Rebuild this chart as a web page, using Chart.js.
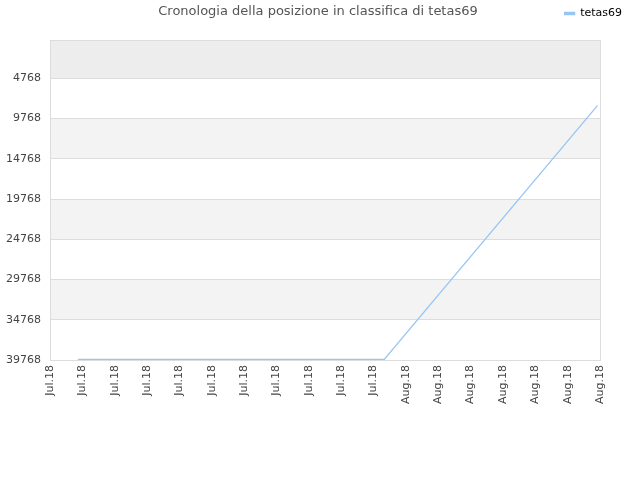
<!DOCTYPE html>
<html>
<head>
<meta charset="utf-8">
<script src="https://cdn.jsdelivr.net/npm/chart.js@4/dist/chart.umd.min.js"></script>
<style>
  html, body { margin: 0; padding: 0; background: #fff; }
  #wrap { width: 640px; height: 480px; }
</style>
</head>
<body>
<div id="wrap"><canvas id="chart"></canvas></div>
<script>
var chartTitle = 'Cronologia della posizione in classifica di tetas69';
var seriesName = 'tetas69';
var xLabels = ['Jul.18', 'Jul.18', 'Jul.18', 'Jul.18', 'Jul.18', 'Jul.18', 'Jul.18', 'Jul.18', 'Jul.18', 'Jul.18', 'Jul.18',
               'Aug.18', 'Aug.18', 'Aug.18', 'Aug.18', 'Aug.18', 'Aug.18', 'Aug.18'];
// position of each point along the label axis (label index units)
var pointPos = [0.86, 10.33, 16.92];
var ranks = [39700, 39700, 8150];
var yTicks = [4768, 9768, 14768, 19768, 24768, 29768, 34768, 39768];

var font = 'DejaVu Sans';

// alternating background bands, frame and title
var bands = {
  id: 'bands',
  beforeDraw: function(chart) {
    var ctx = chart.ctx, a = chart.chartArea, y = chart.scales.y;
    var bounds = [0].concat(yTicks);
    ctx.save();
    for (var i = 0; i < bounds.length - 1; i++) {
      if (i % 2) continue;
      var t = y.getPixelForValue(bounds[i]), b = y.getPixelForValue(bounds[i + 1]);
      ctx.fillStyle = i === 0 ? '#ededed' : '#f3f3f3';
      ctx.fillRect(a.left, t, a.right - a.left, b - t);
    }
    ctx.restore();
  },
  afterDraw: function(chart) {
    var ctx = chart.ctx, a = chart.chartArea;
    ctx.save();
    ctx.strokeStyle = '#dcdcdc';
    ctx.lineWidth = 1;
    ctx.strokeRect(Math.round(a.left) + 0.5, Math.round(a.top) + 0.5,
                   Math.round(a.right - a.left), Math.round(a.bottom - a.top));
    ctx.fillStyle = '#555';
    ctx.font = '13px "' + font + '"';
    ctx.textAlign = 'center';
    ctx.textBaseline = 'middle';
    ctx.fillText(chartTitle, 318, 12);
    ctx.restore();
  }
};

var data = [];
for (var i = 0; i < ranks.length; i++) data.push({ x: pointPos[i], y: ranks[i] });

new Chart(document.getElementById('chart'), {
  type: 'line',
  data: {
    datasets: [{
      label: seriesName,
      data: data,
      borderColor: '#98c6f4',
      backgroundColor: '#98c6f4',
      borderWidth: 1.3,
      pointRadius: 0,
      tension: 0
    }]
  },
  options: {
    responsive: true,
    maintainAspectRatio: false,
    devicePixelRatio: 1,
    animation: false,
    layout: { padding: { top: 2, right: 12, left: 0, bottom: 0 } },
    plugins: {
      title: { display: false },
      tooltip: { enabled: false },
      legend: {
        position: 'top',
        align: 'end',
        labels: {
          boxWidth: 10,
          boxHeight: 2,
          color: '#000',
          font: { family: font, size: 11 },
          padding: 6
        }
      }
    },
    scales: {
      x: {
        type: 'linear',
        min: 0,
        max: xLabels.length - 1,
        grid: { display: false, drawTicks: false },
        border: { display: false },
        afterBuildTicks: function(scale) {
          scale.ticks = xLabels.map(function(l, i) { return { value: i }; });
        },
        afterFit: function(scale) { scale.height = 120; },
        ticks: {
          autoSkip: false,
          maxRotation: 90,
          minRotation: 90,
          padding: 5,
          color: '#444',
          font: { family: font, size: 11 },
          callback: function(v) { return xLabels[v]; }
        }
      },
      xTop: {
        type: 'linear',
        position: 'top',
        display: true,
        grid: { display: false, drawTicks: false },
        border: { display: false },
        ticks: { display: false },
        afterFit: function(scale) { scale.height = 11; }
      },
      y: {
        reverse: true,
        min: 0,
        max: 39768,
        grid: { color: '#dddddd', drawTicks: false },
        border: { display: false },
        afterBuildTicks: function(scale) {
          scale.ticks = yTicks.map(function(v) { return { value: v }; });
        },
        afterFit: function(scale) { scale.width = 50; },
        ticks: {
          padding: 9,
          color: '#444',
          font: { family: font, size: 11 },
          callback: function(v) { return String(v); }
        }
      },
      yRight: {
        position: 'right',
        display: true,
        grid: { display: false, drawTicks: false },
        border: { display: false },
        ticks: { display: false },
        afterFit: function(scale) { scale.width = 28; }
      }
    }
  },
  plugins: [bands]
});
</script>
</body>
</html>
